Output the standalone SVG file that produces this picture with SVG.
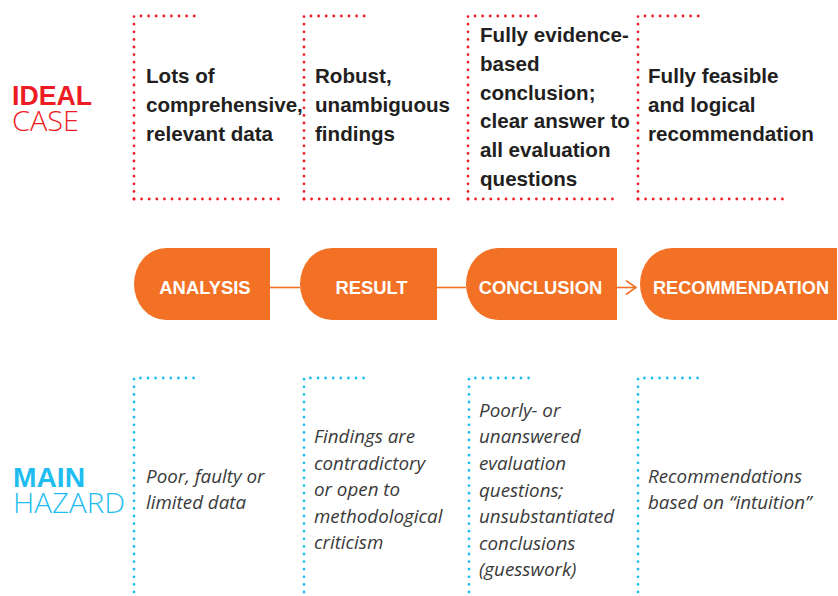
<svg xmlns="http://www.w3.org/2000/svg" width="838" height="596" viewBox="0 0 838 596">
<style>
.bg{fill:#ffffff}
.red{fill:none;stroke:#ee1c25;stroke-width:2.8;stroke-linecap:round;stroke-dasharray:0 7.6}
.blue{fill:none;stroke:#1fbdef;stroke-width:2.8;stroke-linecap:round;stroke-dasharray:0 7.6}
.shape{fill:#f37124}
.conn{fill:none;stroke:#f37124;stroke-width:1.6}
.lbl{font-family:"Liberation Sans",Arial,sans-serif;font-weight:bold;font-size:18.4px;fill:#ffffff;text-anchor:middle}
.top{font-family:"Liberation Sans",Arial,sans-serif;font-weight:bold;font-size:20.6px;fill:#231f20}
.bot{font-family:"Open Sans","Liberation Sans",sans-serif;font-style:italic;font-size:18.8px;fill:#3a3a3a}
.hr{font-family:"Liberation Sans",Arial,sans-serif;font-size:28px;fill:#ed1c24}
.hb{font-family:"Liberation Sans",Arial,sans-serif;font-size:28px;fill:#1fbdef}
.b{font-weight:bold}
.l{font-family:"Open Sans","Liberation Sans",sans-serif;font-weight:300}
</style>
<defs>
<marker id="chev" viewBox="0 0 12 16" refX="11" refY="8" markerWidth="12" markerHeight="16" markerUnits="userSpaceOnUse" orient="auto">
<path d="M1,1 L11,8 L1,15" fill="none" stroke="#f37124" stroke-width="1.6"/>
</marker>
</defs>
<rect class="bg" x="0" y="0" width="838" height="596"/>

<g id="row-labels">
<text class="hr b" x="12" y="105" textLength="80" lengthAdjust="spacingAndGlyphs">IDEAL</text>
<text class="hr l" x="12" y="131" textLength="67" lengthAdjust="spacingAndGlyphs">CASE</text>
<text class="hb b" x="13" y="487" textLength="72" lengthAdjust="spacingAndGlyphs">MAIN</text>
<text class="hb l" x="13" y="513" textLength="112" lengthAdjust="spacingAndGlyphs">HAZARD</text>
</g>

<g id="ideal-1">
<path class="red" d="M134,199 V16 H201"/>
<path class="red" d="M134,199 H283"/>
<text class="top" x="146" y="83">Lots of</text>
<text class="top" x="146" y="112">comprehensive,</text>
<text class="top" x="146" y="141">relevant data</text>
</g>
<g id="ideal-2">
<path class="red" d="M304,199 V16 H371"/>
<path class="red" d="M304,199 H453"/>
<text class="top" x="315" y="83">Robust,</text>
<text class="top" x="315" y="112">unambiguous</text>
<text class="top" x="315" y="141">findings</text>
</g>
<g id="ideal-3">
<path class="red" d="M468,199 V16 H536"/>
<path class="red" d="M468,199 H619"/>
<text class="top" x="480" y="42">Fully evidence-</text>
<text class="top" x="480" y="71">based</text>
<text class="top" x="480" y="100">conclusion;</text>
<text class="top" x="480" y="128">clear answer to</text>
<text class="top" x="480" y="157">all evaluation</text>
<text class="top" x="480" y="186">questions</text>
</g>
<g id="ideal-4">
<path class="red" d="M638,199 V16 H705"/>
<path class="red" d="M638,199 H788"/>
<text class="top" x="648" y="83">Fully feasible</text>
<text class="top" x="648" y="112">and logical</text>
<text class="top" x="648" y="141">recommendation</text>
</g>

<g id="connectors">
<line class="conn" x1="270" y1="287.5" x2="300" y2="287.5"/>
<line class="conn" x1="437" y1="287.5" x2="466" y2="287.5"/>
<line class="conn" x1="617" y1="287.5" x2="636" y2="287.5" marker-end="url(#chev)"/>
</g>

<g id="analysis">
<path class="shape" d="M270,248 H166 A32,36 0 0 0 134,284 A32,36 0 0 0 166,320 H270 Z"/>
<text class="lbl" x="205" y="294">ANALYSIS</text>
</g>
<g id="result">
<path class="shape" d="M437,248 H332 A32,36 0 0 0 300,284 A32,36 0 0 0 332,320 H437 Z"/>
<text class="lbl" x="371.5" y="294">RESULT</text>
</g>
<g id="conclusion">
<path class="shape" d="M617,248 H498 A32,36 0 0 0 466,284 A32,36 0 0 0 498,320 H617 Z"/>
<text class="lbl" x="540.5" y="294">CONCLUSION</text>
</g>
<g id="recommendation">
<path class="shape" d="M837,248 H672 A32,36 0 0 0 640,284 A32,36 0 0 0 672,320 H837 Z"/>
<text class="lbl" x="741" y="294" textLength="176" lengthAdjust="spacingAndGlyphs">RECOMMENDATION</text>
</g>

<g id="hazard-1">
<path class="blue" d="M134,592 V378 H201"/>
<text class="bot" x="146" y="483">Poor, faulty or</text>
<text class="bot" x="146" y="509">limited data</text>
</g>
<g id="hazard-2">
<path class="blue" d="M304,592 V378 H371"/>
<text class="bot" x="314" y="443">Findings are</text>
<text class="bot" x="314" y="470">contradictory</text>
<text class="bot" x="314" y="496">or open to</text>
<text class="bot" x="314" y="523">methodological</text>
<text class="bot" x="314" y="549">criticism</text>
</g>
<g id="hazard-3">
<path class="blue" d="M469,592 V378 H536"/>
<text class="bot" x="479" y="417">Poorly- or</text>
<text class="bot" x="479" y="443">unanswered</text>
<text class="bot" x="479" y="470">evaluation</text>
<text class="bot" x="479" y="497">questions;</text>
<text class="bot" x="479" y="523">unsubstantiated</text>
<text class="bot" x="479" y="550">conclusions</text>
<text class="bot" x="479" y="576">(guesswork)</text>
</g>
<g id="hazard-4">
<path class="blue" d="M638,592 V378 H705"/>
<text class="bot" x="648" y="483">Recommendations</text>
<text class="bot" x="648" y="509">based on “intuition”</text>
</g>
</svg>
